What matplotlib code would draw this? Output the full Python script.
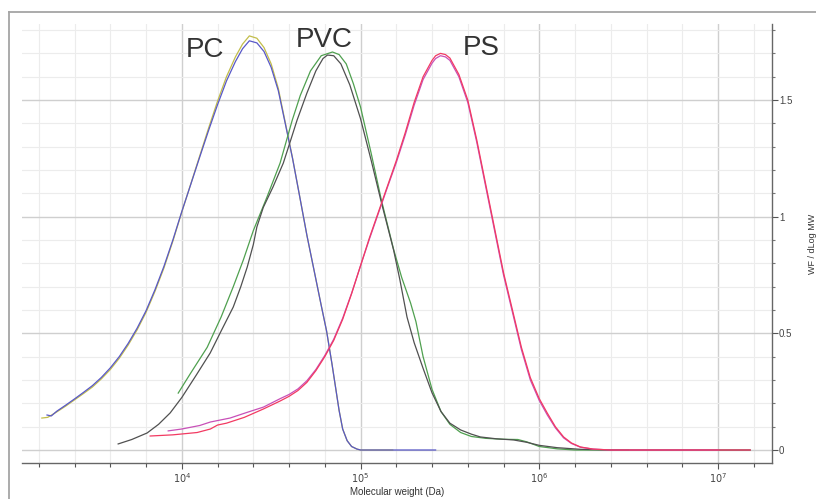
import numpy as np
import matplotlib
matplotlib.use("Agg")
from matplotlib import pyplot as plt
from matplotlib.ticker import FixedLocator, FixedFormatter, NullFormatter
from matplotlib.lines import Line2D

plt.rcParams['font.family'] = ['Liberation Sans', 'DejaVu Sans']

# --- data (log10 of molecular weight, WF/dLogMW) ---
pc_yellow_logm = [3.217, 3.25, 3.30, 3.35, 3.40, 3.45, 3.50, 3.55, 3.60, 3.65, 3.70, 3.75,
                  3.80, 3.85, 3.90, 3.95, 4.0, 4.05, 4.10, 4.15, 4.20, 4.25, 4.30, 4.34,
                  4.378, 4.42, 4.46, 4.50, 4.54, 4.58, 4.62, 4.66, 4.70, 4.74, 4.78, 4.81,
                  4.84, 4.86, 4.88, 4.90, 4.925, 4.95, 4.98, 5.0, 5.18]
pc_yellow_wf = [0.137, 0.140, 0.163, 0.188, 0.215, 0.242, 0.270, 0.305, 0.345, 0.393, 0.450, 0.515,
                0.590, 0.680, 0.780, 0.895, 1.020, 1.140, 1.260, 1.380, 1.495, 1.600, 1.685, 1.740,
                1.775, 1.765, 1.725, 1.655, 1.550, 1.400, 1.250, 1.085, 0.920, 0.770, 0.620, 0.510,
                0.370, 0.270, 0.170, 0.090, 0.040, 0.015, 0.004, 0.0, 0.0]

pc_blue_logm = [3.246, 3.27, 3.30, 3.35, 3.40, 3.45, 3.50, 3.55, 3.60, 3.65, 3.70, 3.75,
                3.80, 3.85, 3.90, 3.95, 4.0, 4.05, 4.10, 4.15, 4.20, 4.25, 4.30, 4.34,
                4.378, 4.42, 4.46, 4.50, 4.54, 4.58, 4.62, 4.66, 4.70, 4.74, 4.78, 4.81,
                4.84, 4.86, 4.88, 4.90, 4.925, 4.95, 4.98, 5.0, 5.42]
pc_blue_wf = [0.150, 0.146, 0.166, 0.192, 0.219, 0.247, 0.276, 0.311, 0.352, 0.400, 0.457, 0.522,
              0.597, 0.687, 0.787, 0.900, 1.022, 1.138, 1.255, 1.370, 1.480, 1.582, 1.665, 1.720,
              1.754, 1.745, 1.708, 1.640, 1.540, 1.395, 1.248, 1.085, 0.920, 0.770, 0.620, 0.510,
              0.370, 0.270, 0.170, 0.090, 0.040, 0.015, 0.004, 0.0, 0.0]

pvc_gray_logm = [3.644, 3.72, 3.806, 3.87, 3.935, 4.0, 4.08, 4.159, 4.22, 4.288, 4.33, 4.366,
                 4.40, 4.42, 4.456, 4.51, 4.568, 4.61, 4.645, 4.70, 4.75, 4.79, 4.815, 4.85,
                 4.89, 4.94, 5.0, 5.06, 5.117, 5.185, 5.22, 5.26, 5.30, 5.35, 5.40, 5.45,
                 5.50, 5.56, 5.62, 5.67, 5.76, 5.857, 5.93, 6.0, 6.1, 6.23, 6.4, 7.18]
pvc_gray_wf = [0.026, 0.045, 0.073, 0.110, 0.159, 0.225, 0.320, 0.416, 0.510, 0.613, 0.700, 0.784,
               0.880, 0.956, 1.040, 1.127, 1.230, 1.330, 1.414, 1.530, 1.625, 1.678, 1.693, 1.690,
               1.655, 1.565, 1.420, 1.240, 1.060, 0.857, 0.730, 0.570, 0.460, 0.350, 0.245, 0.165,
               0.115, 0.086, 0.068, 0.056, 0.048, 0.043, 0.033, 0.020, 0.010, 0.003, 0.0, 0.0]

pvc_green_logm = [3.98, 4.05, 4.142, 4.22, 4.288, 4.344, 4.40, 4.477, 4.55, 4.618, 4.663, 4.72,
                  4.78, 4.843, 4.88, 4.92, 4.96, 5.0, 5.06, 5.117, 5.185, 5.23, 5.28, 5.31,
                  5.35, 5.40, 5.45, 5.50, 5.56, 5.62, 5.70, 5.80, 5.88, 5.93, 6.0, 6.1,
                  6.2, 6.5]
pvc_green_wf = [0.244, 0.330, 0.440, 0.570, 0.700, 0.814, 0.940, 1.085, 1.230, 1.414, 1.520, 1.625,
                1.690, 1.706, 1.695, 1.655, 1.570, 1.470, 1.270, 1.070, 0.860, 0.740, 0.630, 0.550,
                0.400, 0.260, 0.165, 0.110, 0.075, 0.058, 0.050, 0.046, 0.045, 0.035, 0.015, 0.005,
                0.0, 0.0]

ps_red_logm = [3.823, 3.95, 4.086, 4.16, 4.20, 4.25, 4.35, 4.457, 4.55, 4.60, 4.65, 4.70,
               4.75, 4.80, 4.85, 4.90, 4.95, 5.0, 5.05, 5.10, 5.15, 5.20, 5.25, 5.30,
               5.35, 5.40, 5.42, 5.447, 5.475, 5.50, 5.55, 5.60, 5.65, 5.70, 5.75, 5.80,
               5.85, 5.90, 5.95, 6.0, 6.045, 6.09, 6.136, 6.18, 6.23, 6.3, 6.4, 7.18]
ps_red_wf = [0.060, 0.065, 0.075, 0.090, 0.107, 0.115, 0.140, 0.176, 0.210, 0.230, 0.255, 0.290,
             0.340, 0.400, 0.470, 0.560, 0.670, 0.790, 0.910, 1.020, 1.130, 1.240, 1.360, 1.490,
             1.600, 1.670, 1.690, 1.700, 1.695, 1.680, 1.610, 1.500, 1.330, 1.140, 0.950, 0.760,
             0.600, 0.440, 0.310, 0.220, 0.158, 0.100, 0.056, 0.030, 0.013, 0.004, 0.0, 0.0]

ps_magenta_logm = [3.924, 4.0, 4.10, 4.16, 4.27, 4.36, 4.457, 4.55, 4.60, 4.65, 4.70, 4.75,
                   4.80, 4.85, 4.90, 4.95, 5.0, 5.05, 5.10, 5.15, 5.20, 5.25, 5.30, 5.35,
                   5.40, 5.42, 5.447, 5.475, 5.50, 5.55, 5.60, 5.65, 5.70, 5.75, 5.80, 5.85,
                   5.90, 5.95, 6.0, 6.045, 6.09, 6.136, 6.18, 6.23, 6.3, 6.4, 7.0]
ps_magenta_wf = [0.082, 0.090, 0.105, 0.120, 0.137, 0.160, 0.184, 0.220, 0.238, 0.262, 0.297, 0.345,
                 0.405, 0.475, 0.565, 0.672, 0.790, 0.905, 1.015, 1.125, 1.232, 1.350, 1.478, 1.588,
                 1.658, 1.678, 1.690, 1.685, 1.670, 1.600, 1.490, 1.320, 1.130, 0.940, 0.750, 0.590,
                 0.430, 0.300, 0.212, 0.150, 0.095, 0.052, 0.028, 0.012, 0.004, 0.0, 0.0]

x_tick_exps = [4, 5, 6, 7]
y_major = [0, 0.5, 1, 1.5]
y_labels = ['0', '0.5', '1', '1.5']
peak_names = ['PC', 'PVC', 'PS']
peak_pos = [(4.13, 1.714), (4.797, 1.757), (5.676, 1.723)]

# --- figure ---
fig = plt.figure(figsize=(8.16, 4.99), dpi=100)
W, H = 816, 499
ax = fig.add_axes([22 / W, 1 - 463 / H, 750 / W, (463 - 24) / H])

# outer frame
fig.add_artist(Line2D([9 / W, 1.0], [1 - 12 / H, 1 - 12 / H], color='#a5a5a5', lw=1.3,
                      transform=fig.transFigure))
fig.add_artist(Line2D([9 / W, 9 / W], [0.0, 1 - 12 / H], color='#a5a5a5', lw=1.3,
                      transform=fig.transFigure))

series = [
    (pc_yellow_logm, pc_yellow_wf, '#c2bd4a'),
    (pc_blue_logm, pc_blue_wf, '#5858c8'),
    (pvc_green_logm, pvc_green_wf, '#4fa04f'),
    (pvc_gray_logm, pvc_gray_wf, '#505050'),
    (ps_magenta_logm, ps_magenta_wf, '#c850b8'),
    (ps_red_logm, ps_red_wf, '#f23a62'),
]
for lm, wf, col in series:
    ax.plot(10 ** np.array(lm), wf, color=col, lw=0.9, zorder=3)

ax.set_xscale('log')
ax.set_xlim(10 ** 3.106, 10 ** 7.302)
ax.set_ylim(-0.0557, 1.826)

# x ticks
ax.xaxis.set_major_locator(FixedLocator([10.0 ** e for e in x_tick_exps]))
ax.xaxis.set_major_formatter(FixedFormatter([r'$10^{%d}$' % e for e in x_tick_exps]))
minor_x = [10 ** (3.2 + 0.2 * k) for k in range(21) if abs((3.2 + 0.2 * k) % 1) > 0.01]
ax.xaxis.set_minor_locator(FixedLocator(minor_x))
ax.xaxis.set_minor_formatter(NullFormatter())

# y ticks on the right
ax.yaxis.tick_right()
ax.yaxis.set_label_position('right')
ax.yaxis.set_major_locator(FixedLocator(y_major))
ax.yaxis.set_major_formatter(FixedFormatter(y_labels))
ax.yaxis.set_minor_locator(FixedLocator([i / 10 for i in range(0, 19)]))

ax.tick_params(axis='x', which='major', direction='out', length=4, width=0.8,
               color='#555555', labelsize=7, labelcolor='#444444', pad=2)
ax.tick_params(axis='x', which='minor', direction='out', length=3, width=0.8, color='#555555')
ax.tick_params(axis='y', which='major', direction='out', length=4, width=0.8,
               color='#555555', labelsize=7, labelcolor='#444444', pad=1)
ax.tick_params(axis='y', which='minor', direction='out', length=2.5, width=0.8, color='#777777')

for s in ['left', 'top']:
    ax.spines[s].set_visible(False)
for s in ['bottom', 'right']:
    ax.spines[s].set_color('#666666')
    ax.spines[s].set_linewidth(1.0)

ax.set_axisbelow(True)
ax.grid(which='major', color='#cfcfcf', lw=1.0)
ax.grid(which='minor', color='#ececec', lw=0.8)

ax.set_xlabel('Molecular weight (Da)', fontsize=7, color='#333333', labelpad=1)
ax.set_ylabel('WF / dLog MW', fontsize=6.5, color='#333333', labelpad=11)

for name, (lx, ly) in zip(peak_names, peak_pos):
    ax.text(10 ** lx, ly, name, fontsize=20, color='#333333', ha='center', va='center', zorder=4)

fig.savefig('out.png', dpi=100)
